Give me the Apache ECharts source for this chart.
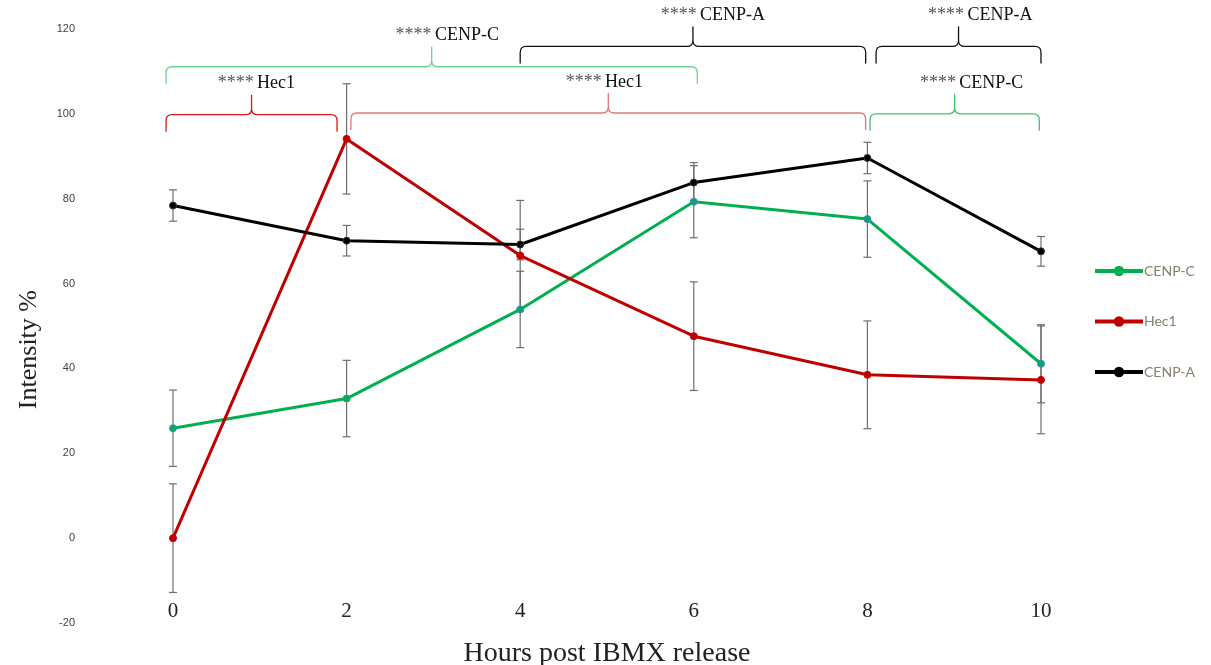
<!DOCTYPE html>
<html>
<head>
<meta charset="utf-8">
<script src="https://cdn.jsdelivr.net/npm/echarts@6/dist/echarts.min.js"></script>
<style>
html,body{margin:0;padding:0;background:#fff;}
#chart{width:1211px;height:665px;}
</style>
</head>
<body>
<div id="chart"></div>
<script>
// ---- data ----
var hours = [0, 2, 4, 6, 8, 10];
var xTicks = [0, 2, 4, 6, 8, 10];
var yTicks = [-20, 0, 20, 40, 60, 80, 100, 120];

var cenpC = [25.9, 32.9, 53.9, 79.3, 75.2, 41.1];
var cenpCErr = [9.0, 9.0, 9.0, 8.5, 9.0, 9.2];
var hec1 = [0.0, 94.1, 66.6, 47.6, 38.5, 37.3];
var hec1Err = [12.8, 13.0, 13.0, 12.8, 12.7, 12.7];
var cenpA = [78.4, 70.1, 69.2, 83.8, 89.6, 67.6];
var cenpAErr = [3.7, 3.6, 3.6, 4.7, 3.7, 3.5];

// significance brackets (data units)
var bracketFrom   = [-0.08, -0.08, 2.05, 4.00, 8.10, 8.03];
var bracketTo     = [6.04, 1.89, 7.98, 7.98, 10.00, 9.98];
var bracketY      = [111.1, 99.8, 100.2, 115.9, 115.9, 100.0];
var bracketLabelX = [3.16, 0.96, 4.97, 6.22, 9.30, 9.20];
var bracketStars  = ['****', '****', '****', '****', '****', '****'];
var bracketNames  = ['CENP-C', 'Hec1', 'Hec1', 'CENP-A', 'CENP-A', 'CENP-C'];
var bracketColors = ['#6cd296', '#d81818', '#e57575', '#111111', '#111111', '#3cc274'];

// ---- build ----
function pairs(xs, ys) { return xs.map(function (x, i) { return [x, ys[i]]; }); }
function errData(xs, ys, es) { return xs.map(function (x, i) { return [x, ys[i] - es[i], ys[i] + es[i]]; }); }

function errRender(params, api) {
  var lo = api.coord([api.value(0), api.value(1)]);
  var hi = api.coord([api.value(0), api.value(2)]);
  var c = 4;
  var st = { stroke: '#6e6e6e', lineWidth: 1.2 };
  return {
    type: 'group',
    children: [
      { type: 'line', shape: { x1: lo[0], y1: lo[1], x2: hi[0], y2: hi[1] }, style: st },
      { type: 'line', shape: { x1: lo[0] - c, y1: lo[1], x2: lo[0] + c, y2: lo[1] }, style: st },
      { type: 'line', shape: { x1: hi[0] - c, y1: hi[1], x2: hi[0] + c, y2: hi[1] }, style: st }
    ]
  };
}

function bracketRender(params, api) {
  var i = params.dataIndex;
  var a = api.coord([api.value(0), api.value(2)]);
  var b = api.coord([api.value(1), api.value(2)]);
  var m = api.coord([api.value(3), api.value(2)]);
  var y = a[1], x1 = a[0], x2 = b[0];
  var xm = (x1 + x2) / 2;
  var drop = 17, peak = 20, r = 6;
  var p = 'M' + x1 + ' ' + (y + drop) +
    ' L' + x1 + ' ' + (y + r) +
    ' Q' + x1 + ' ' + y + ' ' + (x1 + r) + ' ' + y +
    ' L' + (xm - r) + ' ' + y +
    ' Q' + xm + ' ' + y + ' ' + xm + ' ' + (y - r) +
    ' L' + xm + ' ' + (y - peak) +
    ' M' + xm + ' ' + (y - r) +
    ' Q' + xm + ' ' + y + ' ' + (xm + r) + ' ' + y +
    ' L' + (x2 - r) + ' ' + y +
    ' Q' + x2 + ' ' + y + ' ' + x2 + ' ' + (y + r) +
    ' L' + x2 + ' ' + (y + drop);
  return {
    type: 'group',
    children: [
      { type: 'path', shape: { pathData: p }, style: { stroke: bracketColors[i], lineWidth: 1.3, fill: null } },
      {
        type: 'text',
        x: m[0], y: y - peak - 11,
        style: {
          text: '{s|' + bracketStars[i] + '} {n|' + bracketNames[i] + '}',
          align: 'center', verticalAlign: 'middle',
          rich: {
            s: { fontFamily: 'Liberation Serif', fontSize: 18, fill: '#555555' },
            n: { fontFamily: 'Liberation Serif', fontSize: 18, fill: '#111111' }
          }
        }
      }
    ]
  };
}

var chart = echarts.init(document.getElementById('chart'));
var lineSeries = function (name, ys, color, border) {
  return {
    name: name, type: 'line', data: pairs(hours, ys), z: 5,
    symbol: 'circle', symbolSize: 7,
    lineStyle: { color: color, width: 3 },
    itemStyle: { color: color, borderColor: border, borderWidth: 1 }
  };
};

chart.setOption({
  animation: false,
  backgroundColor: '#ffffff',
  grid: { left: 173, right: 170, top: 29, bottom: 42, containLabel: false, outerBoundsMode: 'none' },
  legend: {
    orient: 'vertical', left: 1088, top: 259,
    itemWidth: 48, itemHeight: 13, itemGap: 36.5,
    data: ['CENP-C', 'Hec1', 'CENP-A'],
    lineStyle: { width: 4 },
    itemStyle: { borderWidth: 0 },
    textStyle: { color: '#857f68', fontSize: 14, fontFamily: 'Lato', padding: [0, 0, 0, -4] }
  },
  xAxis: {
    type: 'value', min: xTicks[0], max: xTicks[xTicks.length - 1], interval: 2,
    axisLine: { show: false }, axisTick: { show: false }, splitLine: { show: false },
    axisLabel: { margin: -22, fontFamily: 'Liberation Serif', fontSize: 21, color: '#222222' },
    name: 'Hours post IBMX release', nameLocation: 'middle', nameGap: 17,
    nameTextStyle: { fontFamily: 'Liberation Serif', fontSize: 28, color: '#222222' }
  },
  yAxis: {
    type: 'value', min: yTicks[0], max: yTicks[yTicks.length - 1], interval: 20,
    axisLine: { show: false }, axisTick: { show: false }, splitLine: { show: false },
    axisLabel: { margin: 98, fontFamily: 'Liberation Sans', fontSize: 11, color: '#404040' }
  },
  graphic: [{
    type: 'text', left: 16, top: 290, rotation: Math.PI / 2,
    style: { text: 'Intensity %', fontFamily: 'Liberation Serif', fontSize: 26, fill: '#222222' }
  }],
  series: [
    { type: 'custom', renderItem: errRender, data: errData(hours, cenpC, cenpCErr), encode: { x: 0, y: [1, 2] }, z: 3, silent: true },
    { type: 'custom', renderItem: errRender, data: errData(hours, hec1, hec1Err), encode: { x: 0, y: [1, 2] }, z: 3, silent: true },
    { type: 'custom', renderItem: errRender, data: errData(hours, cenpA, cenpAErr), encode: { x: 0, y: [1, 2] }, z: 3, silent: true },
    lineSeries('CENP-C', cenpC, '#00b050', '#4a7fd0'),
    lineSeries('Hec1', hec1, '#c00000', '#c00000'),
    lineSeries('CENP-A', cenpA, '#000000', '#333333'),
    {
      type: 'custom', renderItem: bracketRender, silent: true, z: 2,
      data: bracketFrom.map(function (f, i) { return [f, bracketTo[i], bracketY[i], bracketLabelX[i]]; }),
      encode: { x: [0, 1], y: 2 }
    }
  ]
});
</script>
</body>
</html>
